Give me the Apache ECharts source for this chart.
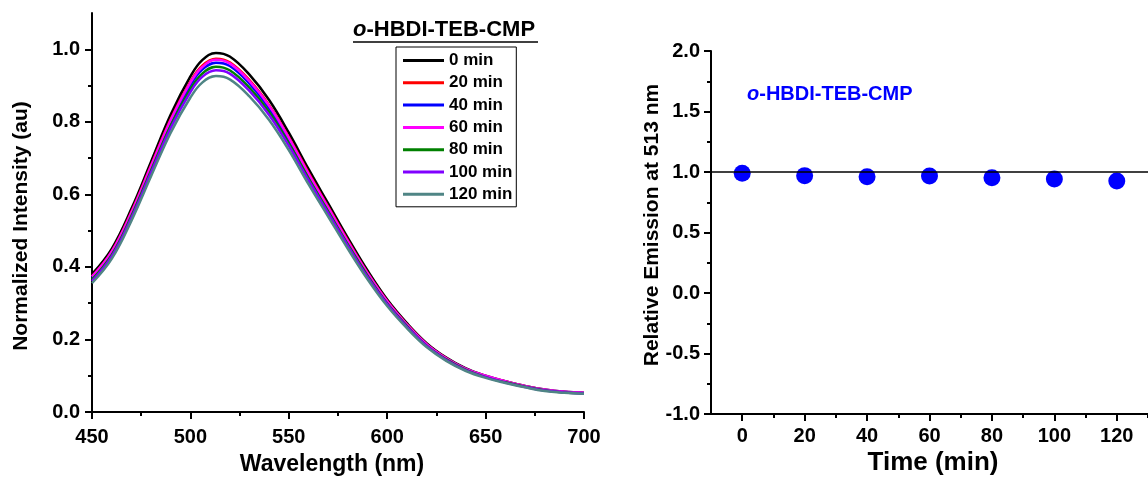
<!DOCTYPE html>
<html>
<head>
<meta charset="utf-8">
<script src="https://cdn.jsdelivr.net/npm/echarts@6.0.0/dist/echarts.min.js"></script>
<style>
  html, body { margin: 0; padding: 0; background: #fff; }
  #chart { width: 1148px; height: 479px; }
</style>
</head>
<body>
<div id="chart"></div>
<script>
// emission spectra
const wavelengths = [450, 460, 470, 480, 490, 500, 506, 513, 520, 530, 540, 550, 560, 570, 580, 590, 600, 610, 620, 630, 640, 650, 660, 670, 680, 690, 700];
const int0   = [0.380, 0.450, 0.560, 0.690, 0.820, 0.925, 0.970, 0.990, 0.980, 0.930, 0.860, 0.770, 0.670, 0.575, 0.480, 0.390, 0.310, 0.245, 0.190, 0.150, 0.120, 0.100, 0.085, 0.072, 0.062, 0.056, 0.053];
const int20  = [0.374, 0.443, 0.552, 0.680, 0.808, 0.911, 0.955, 0.974, 0.964, 0.915, 0.846, 0.758, 0.660, 0.566, 0.473, 0.384, 0.306, 0.242, 0.187, 0.148, 0.118, 0.099, 0.084, 0.071, 0.061, 0.055, 0.052];
const int40  = [0.370, 0.438, 0.546, 0.673, 0.799, 0.901, 0.944, 0.963, 0.954, 0.905, 0.837, 0.750, 0.652, 0.560, 0.467, 0.380, 0.302, 0.239, 0.185, 0.146, 0.117, 0.098, 0.083, 0.070, 0.060, 0.055, 0.052];
const int60  = [0.373, 0.442, 0.550, 0.678, 0.805, 0.908, 0.951, 0.971, 0.961, 0.912, 0.844, 0.756, 0.657, 0.564, 0.471, 0.383, 0.305, 0.241, 0.187, 0.148, 0.119, 0.100, 0.085, 0.072, 0.062, 0.056, 0.053];
const int80  = [0.365, 0.433, 0.540, 0.666, 0.790, 0.890, 0.933, 0.952, 0.942, 0.894, 0.827, 0.741, 0.645, 0.553, 0.462, 0.376, 0.299, 0.237, 0.183, 0.145, 0.116, 0.096, 0.082, 0.070, 0.060, 0.054, 0.051];
const int100 = [0.361, 0.429, 0.535, 0.660, 0.783, 0.882, 0.924, 0.942, 0.933, 0.885, 0.819, 0.734, 0.639, 0.548, 0.458, 0.372, 0.297, 0.235, 0.182, 0.143, 0.115, 0.096, 0.081, 0.069, 0.059, 0.054, 0.051];
const int120 = [0.355, 0.422, 0.527, 0.650, 0.770, 0.867, 0.908, 0.926, 0.917, 0.870, 0.805, 0.722, 0.628, 0.539, 0.450, 0.366, 0.292, 0.231, 0.179, 0.141, 0.113, 0.094, 0.080, 0.068, 0.058, 0.053, 0.050];
const spectra = [int0, int20, int40, int60, int80, int100, int120];
const legendNames = ['0 min', '20 min', '40 min', '60 min', '80 min', '100 min', '120 min'];
const lineColors = ['#000000', '#ff0000', '#0000ff', '#ff00ff', '#008000', '#8000ff', '#4f8585'];

// relative emission at 513 nm, right panel
const times = [0, 20, 40, 60, 80, 100, 120];
const relEmission = [0.99, 0.97, 0.96, 0.967, 0.953, 0.942, 0.926];
const refLine = [[-10, 1.0], [130, 1.0]];

const leftYTicks = [0, 0.2, 0.4, 0.6, 0.8, 1.0];
const leftYMinor = [0.1, 0.3, 0.5, 0.7, 0.9];
const rightXMinor = [10, 30, 50, 70, 90, 110, 130];

const FONT = '"Liberation Sans", Arial, sans-serif';
const axisLine = { show: true, onZero: false, lineStyle: { color: '#000', width: 2 } };
const tickLab = { color: '#000', fontFamily: FONT, fontWeight: 'bold', fontSize: 20 };

const chart = echarts.init(document.getElementById('chart'));

const series = spectra.map((arr, k) => ({
    name: legendNames[k],
    type: 'line',
    xAxisIndex: 0,
    yAxisIndex: 0,
    symbol: 'none',
    smooth: 0.4,
    lineStyle: { color: lineColors[k], width: 2.5 },
    itemStyle: { color: lineColors[k] },
    data: wavelengths.map((w, i) => [w, arr[i]])
}));

series.push({
    type: 'line',
    xAxisIndex: 1,
    yAxisIndex: 2,
    symbol: 'none',
    silent: true,
    lineStyle: { color: '#000', width: 1.5 },
    data: refLine
});
series.push({
    type: 'scatter',
    xAxisIndex: 1,
    yAxisIndex: 2,
    symbolSize: 17,
    itemStyle: { color: '#0000ff', opacity: 1 },
    data: times.map((t, i) => [t, relEmission[i]])
});

const option = {
    animation: false,
    backgroundColor: '#fff',
    grid: [
        { left: 92, top: 13, width: 492, height: 399 },
        { left: 711, top: 51, width: 441, height: 363 }
    ],
    xAxis: [
        {
            type: 'value', gridIndex: 0, min: 450, max: 700, interval: 50,
            axisLine: axisLine,
            axisTick: { show: true, inside: false, length: 7, lineStyle: { color: '#000', width: 2 } },
            minorTick: { show: true, splitNumber: 2, length: 4, lineStyle: { color: '#000', width: 2 } },
            splitLine: { show: false },
            axisLabel: Object.assign({ margin: 15 }, tickLab)
        },
        {
            type: 'value', gridIndex: 1, min: -10, max: 130,
            axisLine: axisLine,
            axisTick: { show: true, length: 7, customValues: times, lineStyle: { color: '#000', width: 2 } },
            splitLine: { show: false },
            axisLabel: Object.assign({ margin: 12, customValues: times }, tickLab)
        },
        {
            type: 'value', gridIndex: 1, min: -10, max: 130, position: 'bottom',
            axisLine: { show: false, onZero: false },
            axisTick: { show: true, length: 4, customValues: rightXMinor, lineStyle: { color: '#000', width: 2 } },
            splitLine: { show: false },
            axisLabel: { show: false }
        }
    ],
    yAxis: [
        {
            type: 'value', gridIndex: 0, min: 0, max: 1.1, position: 'left',
            axisLine: axisLine,
            axisTick: { show: true, length: 7, customValues: leftYTicks, lineStyle: { color: '#000', width: 2 } },
            splitLine: { show: false },
            axisLabel: Object.assign({ margin: 12, customValues: leftYTicks, formatter: v => v.toFixed(1) }, tickLab)
        },
        {
            type: 'value', gridIndex: 0, min: 0, max: 1.1, position: 'left', offset: 0,
            axisLine: { show: false, onZero: false },
            axisTick: { show: true, length: 4, customValues: leftYMinor, lineStyle: { color: '#000', width: 2 } },
            splitLine: { show: false },
            axisLabel: { show: false }
        },
        {
            type: 'value', gridIndex: 1, min: -1, max: 2, interval: 0.5, position: 'left',
            axisLine: axisLine,
            axisTick: { show: true, length: 7, lineStyle: { color: '#000', width: 2 } },
            minorTick: { show: true, splitNumber: 2, length: 4, lineStyle: { color: '#000', width: 2 } },
            splitLine: { show: false },
            axisLabel: Object.assign({ margin: 11, formatter: v => v.toFixed(1) }, tickLab)
        }
    ],
    legend: {
        left: 396, top: 47,
        orient: 'vertical',
        data: legendNames,
        icon: 'rect',
        itemWidth: 41, itemHeight: 3, itemGap: 5.3,
        padding: [5, 4, 4, 7],
        borderColor: '#000', borderWidth: 1,
        selectedMode: false,
        textStyle: { color: '#000', fontFamily: FONT, fontWeight: 'bold', fontSize: 17, lineHeight: 17 }
    },
    graphic: [
        {
            type: 'text', left: 353, top: 19,
            style: {
                text: '{i|o}-HBDI-TEB-CMP',
                fill: '#000', font: 'bold 22px ' + FONT,
                rich: { i: { fontStyle: 'italic', fontWeight: 'bold', fontSize: 22, fontFamily: FONT, fill: '#000' } }
            }
        },
        {
            type: 'line', shape: { x1: 353, y1: 42, x2: 538, y2: 42 },
            style: { stroke: '#000', lineWidth: 1.5 }
        },
        {
            type: 'text', left: 747, top: 84,
            style: {
                text: '{i|o}-HBDI-TEB-CMP',
                fill: '#0000ff', font: 'bold 20px ' + FONT,
                rich: { i: { fontStyle: 'italic', fontWeight: 'bold', fontSize: 20, fontFamily: FONT, fill: '#0000ff' } }
            }
        },
        {
            type: 'text', x: 332, y: 465,
            style: { text: 'Wavelength (nm)', fill: '#000', font: 'bold 23px ' + FONT, align: 'center', verticalAlign: 'middle' }
        },
        {
            type: 'text', x: 21, y: 226, rotation: Math.PI / 2,
            style: { text: 'Normalized Intensity (au)', fill: '#000', font: 'bold 21px ' + FONT, align: 'center', verticalAlign: 'middle' }
        },
        {
            type: 'text', x: 933, y: 463,
            style: { text: 'Time (min)', fill: '#000', font: 'bold 26px ' + FONT, align: 'center', verticalAlign: 'middle' }
        },
        {
            type: 'text', x: 652, y: 225, rotation: Math.PI / 2,
            style: { text: 'Relative Emission at 513 nm', fill: '#000', font: 'bold 21px ' + FONT, align: 'center', verticalAlign: 'middle' }
        }
    ],
    series: series
};

chart.setOption(option);
</script>
</body>
</html>
